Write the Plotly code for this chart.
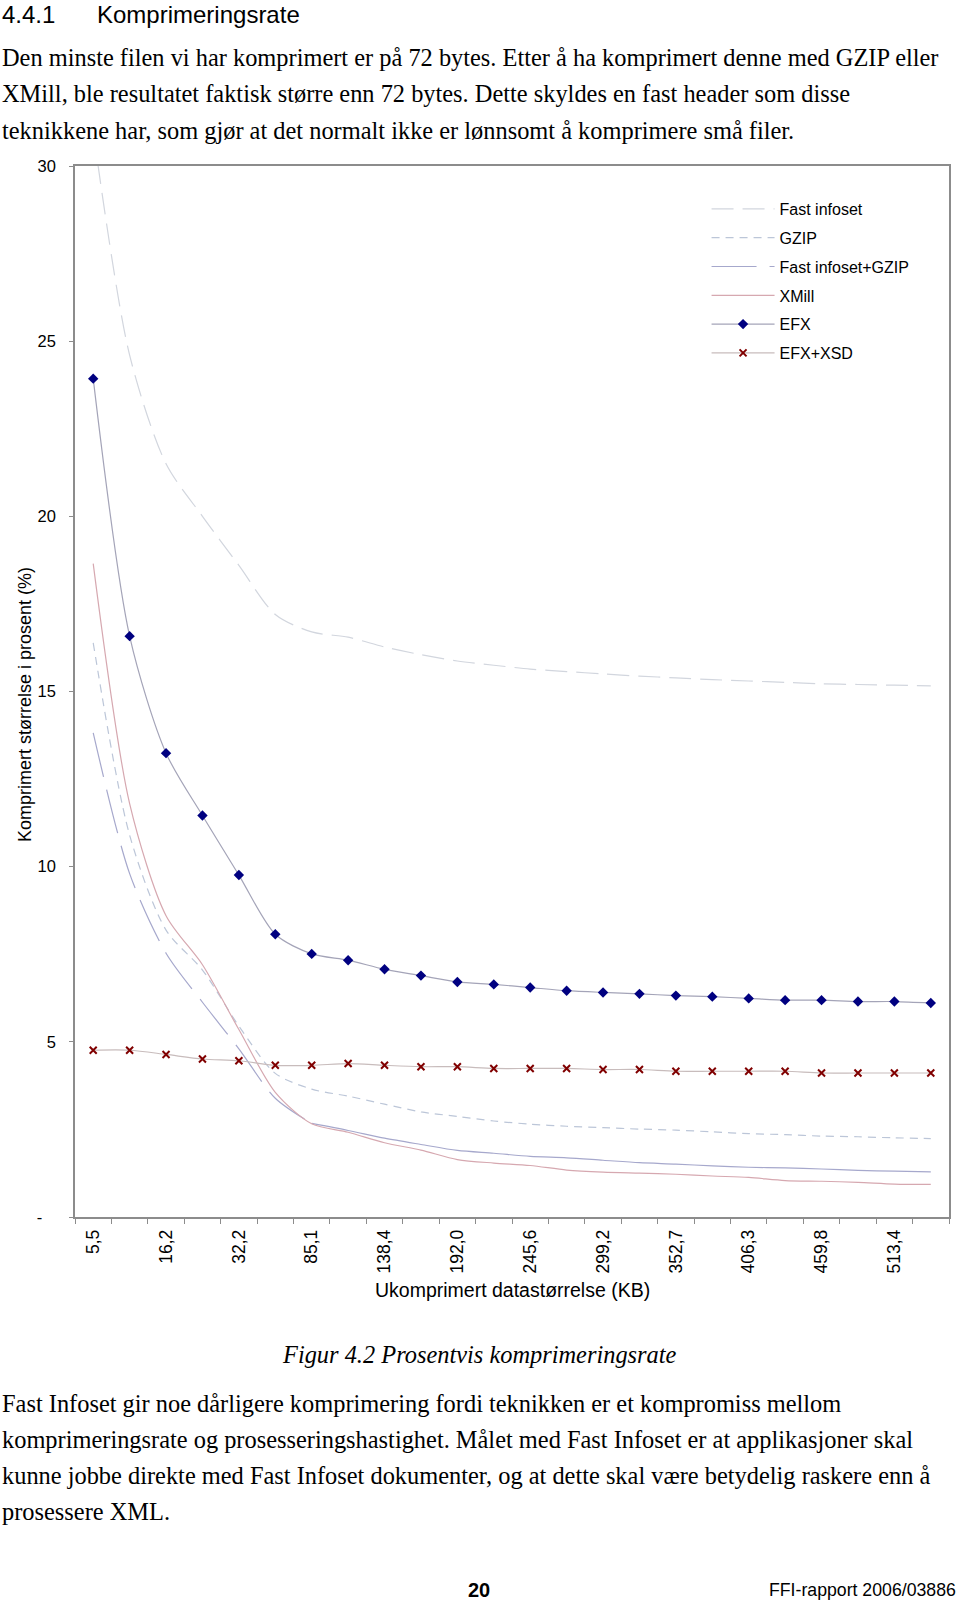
import plotly.graph_objects as go

# ---------------- data ----------------
sizes = ["5,5", "10,8", "16,2", "24,2", "32,2", "58,6", "85,1", "111,7", "138,4", "165,2",
         "192,0", "218,8", "245,6", "272,4", "299,2", "326,0", "352,7", "379,5", "406,3",
         "433,1", "459,8", "486,6", "513,4", "540,2"]

fast_infoset = [31.0, 24.6, 21.5, 20.0, 18.6, 17.2, 16.7, 16.55, 16.27, 16.05, 15.87, 15.75,
                15.64, 15.57, 15.5, 15.44, 15.39, 15.34, 15.3, 15.26, 15.22, 15.2, 15.18, 15.16]
gzip = [16.39, 10.9, 8.19, 7.05, 5.45, 4.10, 3.65, 3.45, 3.22, 3.0, 2.87, 2.74, 2.65, 2.59,
        2.55, 2.51, 2.48, 2.43, 2.38, 2.35, 2.31, 2.29, 2.26, 2.24]
fi_gzip = [13.82, 9.8, 7.53, 6.13, 4.80, 3.39, 2.67, 2.47, 2.25, 2.07, 1.90, 1.82, 1.73, 1.69,
           1.62, 1.55, 1.51, 1.46, 1.42, 1.40, 1.37, 1.33, 1.31, 1.29]
xmill = [18.65, 11.8, 8.6, 7.2, 5.35, 3.56, 2.66, 2.42, 2.12, 1.91, 1.64, 1.54, 1.47, 1.34,
         1.28, 1.25, 1.22, 1.17, 1.13, 1.04, 1.02, 0.99, 0.94, 0.93]
efx = [23.93, 16.58, 13.24, 11.46, 9.76, 8.07, 7.51, 7.33, 7.07, 6.89, 6.71, 6.64, 6.55, 6.46,
       6.41, 6.37, 6.32, 6.29, 6.24, 6.19, 6.19, 6.15, 6.15, 6.11]
efx_xsd = [4.76, 4.76, 4.64, 4.51, 4.46, 4.33, 4.33, 4.38, 4.33, 4.29, 4.29, 4.24, 4.24, 4.24,
           4.21, 4.21, 4.16, 4.16, 4.16, 4.16, 4.11, 4.11, 4.11, 4.11]

y_ticks = [0, 5, 10, 15, 20, 25, 30]
y_ticktext = ["-\u00a0\u00a0\u00a0", "5", "10", "15", "20", "25", "30"]

heading_num = "4.4.1"
heading_txt = "Komprimeringsrate"
para1 = ["Den minste filen vi har komprimert er på 72 bytes. Etter å ha komprimert denne med GZIP eller",
         "XMill, ble resultatet faktisk større enn 72 bytes. Dette skyldes en fast header som disse",
         "teknikkene har, som gjør at det normalt ikke er lønnsomt å komprimere små filer."]
caption = "Figur 4.2 Prosentvis komprimeringsrate"
para2 = ["Fast Infoset gir noe dårligere komprimering fordi teknikken er et kompromiss mellom",
         "komprimeringsrate og prosesseringshastighet. Målet med Fast Infoset er at applikasjoner skal",
         "kunne jobbe direkte med Fast Infoset dokumenter, og at dette skal være betydelig raskere enn å",
         "prosessere XML."]
page_no = "20"
report_id = "FFI-rapport 2006/03886"
x_title = "Ukomprimert datastørrelse (KB)"
y_title = "Komprimert størrelse i prosent (%)"

# ---------------- page geometry ----------------
W, H = 960, 1604
L, R, T, B = 75, 9, 166, 387
PW, PH = W - L - R, H - T - B

def px(x):
    return (x - L) / PW

def py(y):
    return (H - B - y) / PH

SANS = "Liberation Sans, Arial, sans-serif"
SERIF = "Liberation Serif, Times New Roman, serif"

xi = list(range(len(sizes)))
split = 6  # Excel restarts the long-dash pattern per segment: flat tail looks solid

fig = go.Figure()

def add(name, x, y, line, marker=None, group="", show=True):
    fig.add_trace(go.Scatter(
        x=x, y=y, name=name,
        mode="lines+markers" if marker else "lines",
        line=dict(shape="spline", smoothing=0.8, **line),
        marker=marker if marker else None,
        legendgroup=group, showlegend=show,
    ))

add("Fast infoset", xi, fast_infoset, dict(color="#d2d6de", width=1.2, dash="22px,9px"), group="g0")
add("GZIP", xi, gzip, dict(color="#bcc6d8", width=1.2, dash="8px,6px"), group="g1")
add("Fast infoset+GZIP", xi[:split + 1], fi_gzip[:split + 1],
    dict(color="#a6a8cc", width=1.2, dash="45px,13px"), group="g2")
add("Fast infoset+GZIP", xi[split:], fi_gzip[split:],
    dict(color="#a6a8cc", width=1.2), group="g2", show=False)
add("XMill", xi, xmill, dict(color="#d6a8b0", width=1.2), group="g3")
add("EFX", xi, efx, dict(color="#a4a4b8", width=1.2),
    dict(symbol="diamond", size=8, color="#000080", line=dict(width=0)), group="g4")
add("EFX+XSD", xi, efx_xsd, dict(color="#c8bcbc", width=1.2),
    dict(symbol="x-thin", size=7, color="#800000", line=dict(width=2, color="#800000")), group="g5")

ann = []
def text(x, y, s, size, family, xanchor="left", color="#000", **kw):
    ann.append(dict(x=px(x), y=py(y), xref="paper", yref="paper", text=s, showarrow=False,
                    xanchor=xanchor, yanchor="middle",
                    font=dict(size=size, family=family, color=color), **kw))

text(0, 15, heading_num, 24, SANS)
text(95, 15, heading_txt, 24, SANS)
for i, s in enumerate(para1):
    text(0, 58 + 36 * i, s, 24.4, SERIF)
text(480, 1354, "<i>" + caption + "</i>", 24.4, SERIF, xanchor="center")
for i, s in enumerate(para2):
    text(0, 1403 + 36 * i, s, 24.4, SERIF)
text(480, 1590, "<b>" + page_no + "</b>", 20, SANS, xanchor="center")
text(960, 1590, report_id, 17.7, SANS, xanchor="right")
text(513, 1290, x_title, 19.5, SANS, xanchor="center")
ann.append(dict(x=px(25), y=py(705), xref="paper", yref="paper", text=y_title, showarrow=False,
                textangle=-90, xanchor="center", yanchor="middle",
                font=dict(size=18, family=SANS, color="#000")))

fig.update_layout(
    width=W, height=H, margin=dict(l=L, r=R, t=T, b=B, pad=0),
    paper_bgcolor="white", plot_bgcolor="white",
    font=dict(family=SANS, size=16, color="#000"),
    annotations=ann,
    showlegend=True,
    legend=dict(x=px(708), y=py(192), xanchor="left", yanchor="top",
                bgcolor="rgba(0,0,0,0)", borderwidth=0, itemwidth=63,
                tracegroupgap=5, traceorder="grouped",
                font=dict(size=16, family=SANS, color="#000")),
    xaxis=dict(range=[-0.5, len(sizes) - 0.5], tickmode="array", tickvals=xi[::2],
               ticktext=sizes[::2], tickangle=-90, ticks="", showgrid=False, zeroline=False,
               showline=True, linecolor="#8c8c8c", linewidth=1.5, mirror=True,
               ticklabelstandoff=4, tickfont=dict(size=17.5, family=SANS),
               minor=dict(tickmode="array", tickvals=[i - 0.5 for i in range(len(sizes) + 1)],
                          ticks="outside", ticklen=5, tickcolor="#8c8c8c", tickwidth=1,
                          showgrid=False)),
    yaxis=dict(range=[0, 30], tickmode="array", tickvals=y_ticks, ticktext=y_ticktext,
               ticks="outside", ticklen=4, tickcolor="#8c8c8c", showgrid=False, zeroline=False,
               showline=True, linecolor="#8c8c8c", linewidth=1.5, mirror=True,
               ticklabelstandoff=10, tickfont=dict(size=16.5, family=SANS)),
)

fig.write_html("out.html", config={"displayModeBar": False},
               post_script="document.body.style.margin='0';document.body.style.overflow='hidden';")
